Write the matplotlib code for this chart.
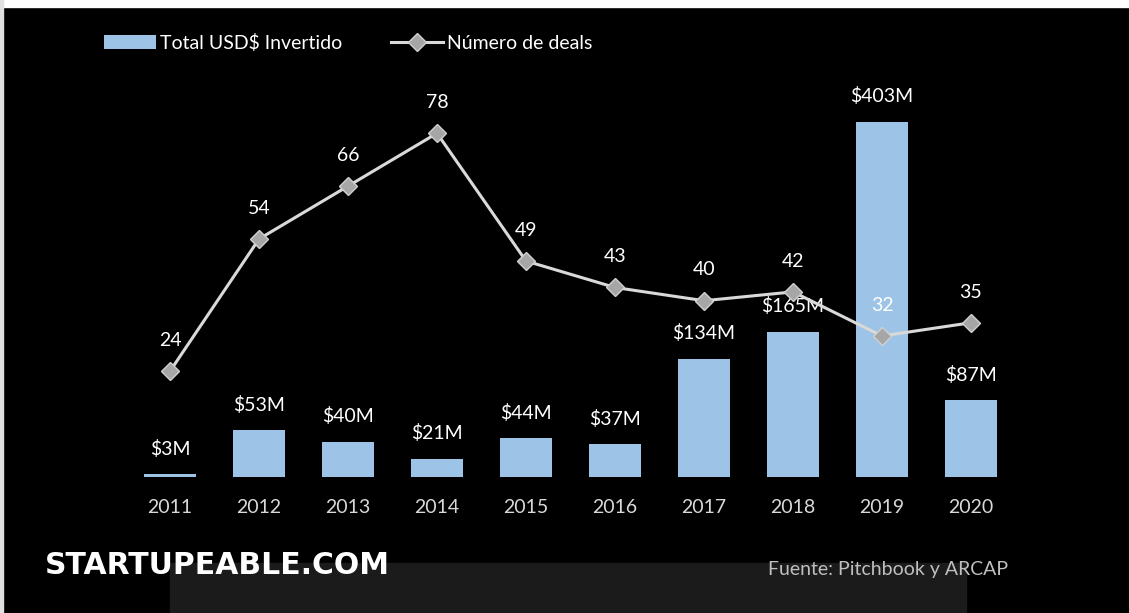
import numpy as np
import matplotlib.pyplot as plt
from matplotlib.patches import Rectangle

years = ['2011', '2012', '2013', '2014', '2015', '2016', '2017', '2018', '2019', '2020']
invested = [3, 53, 40, 21, 44, 37, 134, 165, 403, 87]   # USD millions
deals = [24, 54, 66, 78, 49, 43, 40, 42, 32, 35]

plt.rcParams['font.family'] = ['Lato', 'DejaVu Sans']

W, H = 1129, 613
fig = plt.figure(figsize=(W / 100, H / 100), dpi=100)
fig.patch.set_facecolor('black')

# white strip along top and left like the screenshot
fig.patches.append(Rectangle((0, 1 - 7 / H), 1, 7 / H, transform=fig.transFigure,
                             color='white', zorder=0))
fig.patches.append(Rectangle((0, 0), 3 / W, 1, transform=fig.transFigure,
                             color='#e0e0e0', zorder=0))
# dark gray box at the bottom
fig.patches.append(Rectangle((170 / W, 0), (966 - 170) / W, (613 - 563) / H,
                             transform=fig.transFigure, color='#1b1b1b', zorder=0))

# axes placement in pixels
left_px, right_px, top_px, base_px = 100, 1040, 80, 477
ax = fig.add_axes([left_px / W, (H - base_px) / H, (right_px - left_px) / W,
                   (base_px - top_px) / H])
ax.set_facecolor('none')

x = np.arange(len(years))
step = 89.0
ax.set_xlim((left_px - 170) / step, (right_px - 170) / step)
bar_scale = 355 / 403.0   # px per million
ax.set_ylim(0, (base_px - top_px) / bar_scale)

bars = ax.bar(x, invested, width=0.58, color='#9dc3e6', zorder=2,
              label='Total USD$ Invertido')
for xi, v in zip(x, invested):
    ax.annotate('$%dM' % v, (xi, v), xytext=(0, 12), textcoords='offset points',
                ha='center', va='bottom', color='white', fontsize=14)

ax2 = ax.twinx()
line_scale = 238 / 54.0
ax2.set_ylim(0, (base_px - top_px) / line_scale)
ax2.plot(x, deals, color='#d9d9d9', lw=2.2, marker='D', markersize=9,
         markerfacecolor='#a6a6a6', markeredgecolor='#d0d0d0', markeredgewidth=1,
         zorder=3, label='Número de deals')
for xi, v in zip(x, deals):
    ax2.annotate(str(v), (xi, v), xytext=(0, 16), textcoords='offset points',
                 ha='center', va='bottom', color='white', fontsize=14)

for a in (ax, ax2):
    for s in a.spines.values():
        s.set_visible(False)
    a.set_yticks([])
ax.set_xticks(x)
ax.set_xticklabels(years, color='#d9d9d9', fontsize=14)
ax.tick_params(axis='x', length=0, pad=16)

h1, l1 = ax.get_legend_handles_labels()
h2, l2 = ax2.get_legend_handles_labels()
leg = fig.legend(h1 + h2, l1 + l2, loc='center left', bbox_to_anchor=(86 / W, 1 - 43 / H),
                 ncol=2, frameon=False, fontsize=14, labelcolor='white',
                 handlelength=2.7, handletextpad=0.2, columnspacing=2.5)

fig.text(45 / W, 1 - 565 / H, 'STARTUPEABLE.COM', color='white', fontsize=21.5,
         fontweight='bold', family='DejaVu Sans', va='center', ha='left')
fig.text(768 / W, 1 - 570 / H, 'Fuente: Pitchbook y ARCAP', color='#bfbfbf',
         fontsize=14, va='center', ha='left')

fig.savefig('out.png', dpi=100, facecolor=fig.get_facecolor())
